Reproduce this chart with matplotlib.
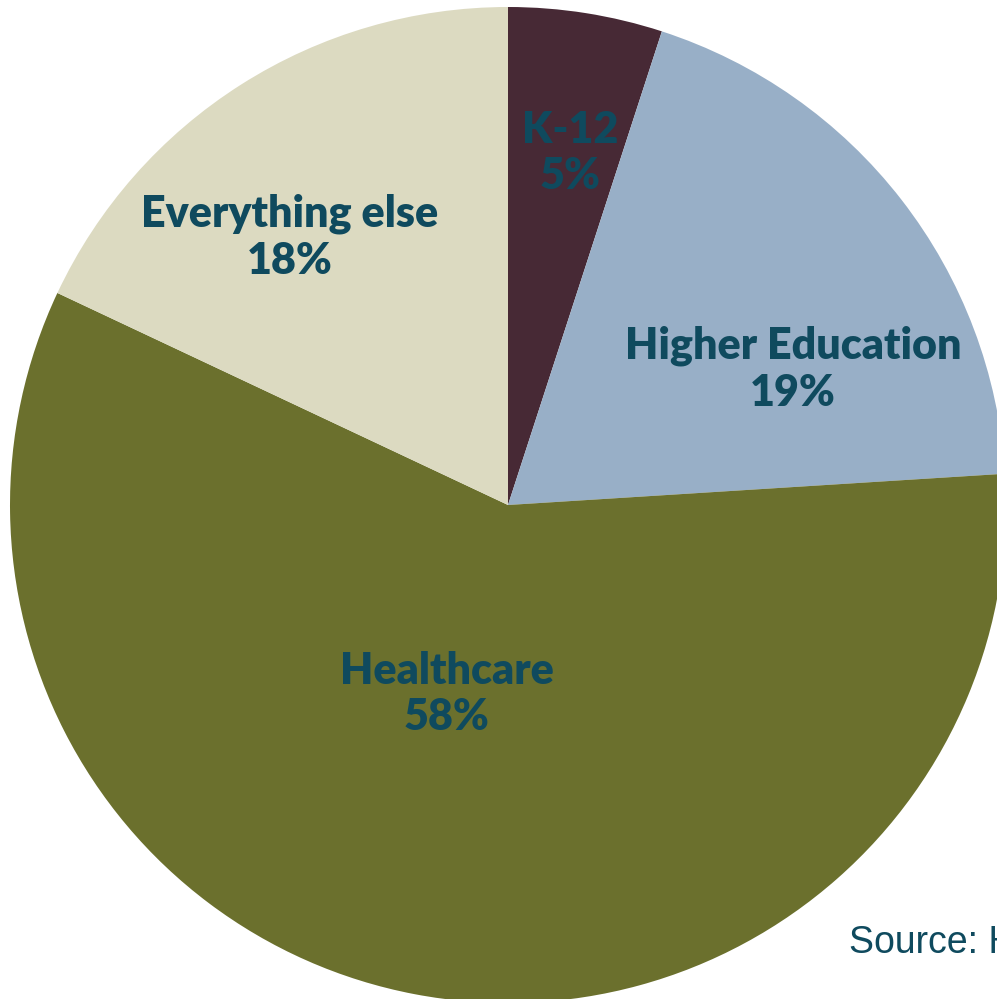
import matplotlib
matplotlib.use('Agg')
import matplotlib.pyplot as plt

# Share of total by sector
sectors = ['K-12', 'Higher Education', 'Healthcare', 'Everything else']
shares = [5, 19, 58, 18]
colors = ['#472935', '#98AFC7', '#6B702D', '#DCDAC1']

W, H = 997, 999
fig = plt.figure(figsize=(W / 100, H / 100), dpi=100)
ax = fig.add_axes([0, 0, 1, 1])

# pie in pixel space (y measured from bottom)
cx, cy, r = 508, H - 505, 498
ax.pie(shares, colors=colors, startangle=90, counterclock=False,
       center=(cx, cy), radius=r, wedgeprops={'linewidth': 0})
ax.set_xlim(0, W)
ax.set_ylim(0, H)
ax.set_aspect('auto')
ax.axis('off')

# label positions in pixels from top-left
label_pos = {
    'K-12': (570, 153),
    'Higher Education': (793, 369),
    'Healthcare': (447, 694),
    'Everything else': (290, 237),
}
txt_color = '#0F4A5E'
for name, val in zip(sectors, shares):
    x, y = label_pos[name]
    ax.text(x, H - y, f'{name}\n{val}%', ha='center', va='center',
            fontsize=31, fontweight='heavy', family='Lato', color=txt_color,
            linespacing=1.2)

ax.text(849, H - 953, 'Source: H', ha='left', va='baseline',
        fontsize=27, family='Liberation Sans', color=txt_color)

fig.savefig('out.png', dpi=100)
